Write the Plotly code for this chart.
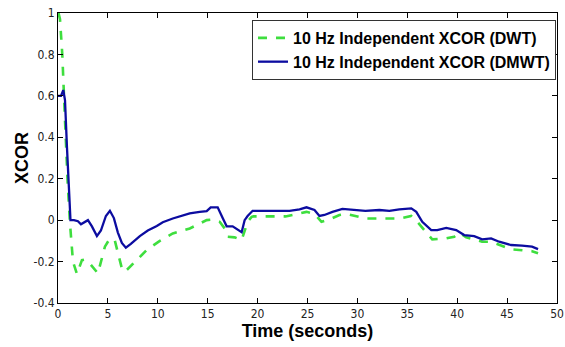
import plotly.graph_objects as go

# DMWT (solid blue)
t_dmwt = [0, 0.3, 0.53, 0.7, 0.9, 1.1, 1.25, 1.6, 2.0, 2.3, 2.6, 3.0, 3.4, 3.9, 4.3, 4.8, 5.2, 5.6,
          6.0, 6.4, 6.8, 7.3, 8.2, 9.0, 9.9, 10.5, 11.5, 12.3, 13.2, 14.2, 14.9, 15.3, 16.0, 16.5,
          16.9, 17.5, 18.0, 18.4, 18.7, 19.0, 19.5, 20.5, 22.0, 23.2, 24.2, 24.9, 25.7, 26.2, 26.7,
          27.5, 28.5, 29.5, 30.8, 32.2, 33.2, 34.2, 35.4, 35.9, 36.5, 37.4, 38.0, 38.9, 39.9, 40.7,
          41.7, 42.5, 43.4, 44.2, 45.4, 46.5, 47.5, 48.1]
xcor_dmwt = [0.60, 0.60, 0.628, 0.58, 0.35, 0.10, 0.0, 0.0, -0.005, -0.02, -0.01, 0.0, -0.03, -0.077,
             -0.05, 0.02, 0.045, 0.01, -0.06, -0.11, -0.133, -0.115, -0.077, -0.05, -0.028, -0.01,
             0.008, 0.02, 0.033, 0.04, 0.044, 0.062, 0.062, 0.01, -0.03, -0.03, -0.045, -0.058, 0.0,
             0.02, 0.045, 0.045, 0.045, 0.045, 0.052, 0.062, 0.049, 0.02, 0.025, 0.04, 0.054, 0.049,
             0.045, 0.049, 0.045, 0.052, 0.057, 0.04, -0.008, -0.048, -0.048, -0.037, -0.048, -0.072,
             -0.077, -0.093, -0.088, -0.104, -0.12, -0.123, -0.128, -0.14]

# DWT (dashed green)
t_dwt = [0.05, 0.2, 0.43, 0.63, 0.8, 0.97, 1.2, 1.5, 1.9, 2.4, 2.7, 3.2, 4.0, 4.7, 5.2, 5.7, 6.4,
         6.7, 7.5, 8.9, 10.2, 11.5, 13.2, 14.9, 15.5, 16.2, 16.7, 17.0, 17.7, 18.4, 19.0, 19.4, 19.6,
         22.8, 23.5, 24.9, 25.7, 26.4, 27.2, 28.2, 28.9, 29.9, 30.8, 34.2, 35.4, 36.0, 36.7, 37.5,
         38.9, 39.7, 40.2, 40.9, 41.7, 42.5, 43.4, 44.2, 45.4, 46.5, 47.5, 48.1]
xcor_dwt = [1.0, 0.97, 0.8, 0.6, 0.37, 0.18, -0.015, -0.2, -0.26, -0.193, -0.19, -0.21, -0.257,
            -0.128, -0.088, -0.1, -0.233, -0.25, -0.21, -0.144, -0.1, -0.064, -0.04, 0.0, 0.003,
            -0.008, -0.04, -0.08, -0.083, -0.096, -0.008, 0.016, 0.018, 0.018, 0.025, 0.04, 0.03,
            -0.008, 0.003, 0.025, 0.03, 0.018, 0.008, 0.008, 0.02, -0.008, -0.048, -0.093, -0.088,
            -0.08, -0.06, -0.083, -0.093, -0.104, -0.104, -0.12, -0.141, -0.145, -0.15, -0.16]

x_ticks = [0, 5, 10, 15, 20, 25, 30, 35, 40, 45, 50]
y_ticks = [-0.4, -0.2, 0, 0.2, 0.4, 0.6, 0.8, 1]
y_tick_labels = ["-0.4", "-0.2", "0", "0.2", "0.4", "0.6", "0.8", "1"]

fig = go.Figure()
fig.add_trace(go.Scatter(x=t_dwt, y=xcor_dwt, mode="lines",
                         name="<b>10 Hz Independent XCOR (DWT)</b>",
                         line=dict(color="#3ede3e", width=2.6, dash="dash")))
fig.add_trace(go.Scatter(x=t_dmwt, y=xcor_dmwt, mode="lines",
                         name="<b>10 Hz Independent XCOR (DMWT)</b>",
                         line=dict(color="#0c0ca0", width=2.3)))

tickfont = dict(family="DejaVu Sans Condensed, Liberation Sans Narrow, Liberation Sans", size=12, color="#222")
fig.update_layout(
    width=565, height=347,
    margin=dict(l=58, r=8, t=13, b=44, autoexpand=False),
    paper_bgcolor="white", plot_bgcolor="white",
    showlegend=True,
    legend=dict(x=0.998, y=0.976, xanchor="right", yanchor="top",
                bgcolor="white", bordercolor="#333", borderwidth=1,
                font=dict(family="Liberation Sans, Arial", size=16, color="black"),
                itemwidth=30),
    xaxis=dict(range=[0, 50], tickvals=x_ticks, ticks="inside", ticklen=5, tickcolor="black",
               showline=True, linecolor="black", linewidth=1, mirror="ticks",
               showgrid=False, zeroline=False, tickfont=tickfont, automargin=False,
               title=dict(text="<b>Time (seconds)</b>", standoff=2,
                          font=dict(family="Liberation Sans, Arial", size=18, color="black"))),
    yaxis=dict(range=[-0.4, 1], tickvals=y_ticks, ticktext=y_tick_labels, ticks="inside", ticklen=5,
               tickcolor="black", showline=True, linecolor="black", linewidth=1, mirror="ticks",
               showgrid=False, zeroline=False, tickfont=tickfont, automargin=False,
               title=dict(text="<b>XCOR</b>", standoff=0,
                          font=dict(family="Liberation Sans, Arial", size=18, color="black"))),
)

fig.write_html("out.html", config={"displayModeBar": False})

# remove the browser's default page margin so the figure fills the window
with open("out.html", "r", encoding="utf-8") as f:
    html = f.read()
html = html.replace("<body>", '<body style="margin:0;padding:0;overflow:hidden">', 1)
with open("out.html", "w", encoding="utf-8") as f:
    f.write(html)
